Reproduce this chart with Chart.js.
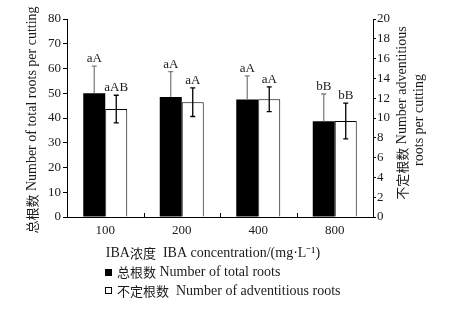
<!DOCTYPE html>
<html>
<head>
<meta charset="utf-8">
<script src="https://cdn.jsdelivr.net/npm/chart.js@4/dist/chart.umd.min.js"></script>
<style>
  html, body { margin: 0; padding: 0; background: #fff; }
  #wrap { position: relative; width: 449px; height: 309px; }
</style>
</head>
<body>
<div id="wrap"><canvas id="c" width="449" height="309"></canvas></div>
<script>
// Data
const concentrations = ["100", "200", "400", "800"];
const totalRoots = [50, 48.5, 47.5, 38.7];          // left axis
const totalRootsErr = [11, 10.2, 9.5, 11];
const totalLetters = ["aA", "aA", "aA", "bB"];
const adventRoots = [10.9, 11.6, 11.9, 9.7];         // right axis
const adventRootsErr = [1.4, 1.45, 1.25, 1.8];
const adventLetters = ["aAB", "aA", "aA", "bB"];

const serif = '"Liberation Serif", "Times New Roman", serif';
const cjk = '"Noto Sans CJK SC", sans-serif';
const textColor = "#1a1a1a";

// Draw text mixing Chinese runs (CJK font) and Latin runs (serif font).
function drawMixed(ctx, text, x, y, align) {
  const parts = text.split(/([\u3400-\u9fff]+)/).filter((p) => p.length);
  const fonts = parts.map((p) => (/[\u3400-\u9fff]/.test(p) ? "13px " + cjk : "14px " + serif));
  const widths = parts.map((p, i) => { ctx.font = fonts[i]; return ctx.measureText(p).width; });
  const total = widths.reduce((a, b) => a + b, 0);
  let cx = align === "center" ? x - total / 2 : x;
  ctx.textAlign = "left";
  ctx.textBaseline = "middle";
  parts.forEach((p, i) => {
    ctx.font = fonts[i];
    ctx.fillText(p, cx, y);
    cx += widths[i];
  });
}

// Draws error bars, significance letters, x-axis tick marks, titles and legend.
const extras = {
  id: "extras",
  afterDatasetsDraw(chart) {
    const ctx = chart.ctx;
    const sets = [
      { meta: chart.getDatasetMeta(0), scale: chart.scales.y, vals: totalRoots, err: totalRootsErr, lab: totalLetters, color: "#808080", down: false },
      { meta: chart.getDatasetMeta(1), scale: chart.scales.y1, vals: adventRoots, err: adventRootsErr, lab: adventLetters, color: "#000", down: true },
    ];
    ctx.save();
    sets.forEach((s) => {
      s.meta.data.forEach((bar, i) => {
        const x = bar.x;
        const yTop = s.scale.getPixelForValue(s.vals[i] + s.err[i]);
        const yMid = s.scale.getPixelForValue(s.vals[i]);
        const yBot = s.scale.getPixelForValue(s.vals[i] - s.err[i]);
        ctx.strokeStyle = s.color;
        ctx.lineWidth = 1.3;
        ctx.beginPath();
        ctx.moveTo(x, s.down ? yBot : yMid);
        ctx.lineTo(x, yTop);
        ctx.moveTo(x - 2.5, yTop);
        ctx.lineTo(x + 2.5, yTop);
        if (s.down) {
          ctx.moveTo(x - 2.5, yBot);
          ctx.lineTo(x + 2.5, yBot);
        }
        ctx.stroke();
        ctx.fillStyle = textColor;
        ctx.font = "13px " + serif;
        ctx.textAlign = "center";
        ctx.textBaseline = "alphabetic";
        ctx.fillText(s.lab[i], x, yTop - 4);
      });
    });
    ctx.restore();
  },
  afterDraw(chart) {
    const ctx = chart.ctx;
    const area = chart.chartArea;
    const xs = chart.scales.x;
    ctx.save();
    // small inward tick marks between categories
    ctx.strokeStyle = "#000";
    ctx.lineWidth = 1;
    for (let i = 1; i < concentrations.length; i++) {
      const px = Math.round((xs.getPixelForValue(i - 1) + xs.getPixelForValue(i)) / 2) + 0.5;
      ctx.beginPath();
      ctx.moveTo(px, area.bottom);
      ctx.lineTo(px, area.bottom - 4);
      ctx.stroke();
    }
    ctx.fillStyle = textColor;
    // x title
    drawMixed(ctx, "IBA浓度  IBA concentration/(mg·L⁻¹)", 213, 253, "center");
    // left y title
    ctx.save();
    ctx.translate(32, 120);
    ctx.rotate(-Math.PI / 2);
    drawMixed(ctx, "总根数 Number of total roots per cutting", 0, 0, "center");
    ctx.restore();
    // right y title, two lines
    ctx.save();
    ctx.translate(402, 113);
    ctx.rotate(-Math.PI / 2);
    drawMixed(ctx, "不定根数 Number adventitious", 0, 0, "center");
    ctx.restore();
    ctx.save();
    ctx.translate(419, 120);
    ctx.rotate(-Math.PI / 2);
    drawMixed(ctx, "roots per cutting", 0, 0, "center");
    ctx.restore();
    // legend
    ctx.fillStyle = "#000";
    ctx.fillRect(105, 269, 7, 7);
    ctx.strokeStyle = "#000";
    ctx.strokeRect(105.5, 287.5, 6, 6);
    ctx.fillStyle = textColor;
    drawMixed(ctx, "总根数 Number of total roots", 117, 272, "left");
    drawMixed(ctx, "不定根数  Number of adventitious roots", 117, 291, "left");
    ctx.restore();
  },
};

new Chart(document.getElementById("c"), {
  type: "bar",
  data: {
    labels: concentrations,
    datasets: [
      {
        label: "总根数 Number of total roots",
        data: totalRoots,
        yAxisID: "y",
        backgroundColor: "#000",
        borderWidth: 0,
      },
      {
        label: "不定根数 Number of adventitious roots",
        data: adventRoots,
        yAxisID: "y1",
        backgroundColor: "#fff",
        borderColor: "#000",
        borderWidth: 1,
      },
    ],
  },
  options: {
    responsive: false,
    animation: false,
    layout: { padding: { top: 19, left: 0, right: 0, bottom: 0 } },
    datasets: { bar: { categoryPercentage: 0.575, barPercentage: 1.0 } },
    scales: {
      x: {
        grid: { display: false },
        border: { color: "#000", width: 1 },
        ticks: { color: textColor, font: { family: serif, size: 13 }, padding: -2 },
        afterFit: (s) => { s.height = 92; },
      },
      y: {
        position: "left",
        min: 0,
        max: 80,
        ticks: { stepSize: 10, color: textColor, font: { family: serif, size: 13 }, padding: 2 },
        grid: { drawOnChartArea: false, tickLength: 4, color: "#000" },
        border: { color: "#000", width: 1 },
        afterFit: (s) => { s.width = 67; },
      },
      y1: {
        position: "right",
        min: 0,
        max: 20,
        ticks: { stepSize: 2, color: textColor, font: { family: serif, size: 13 }, padding: 1 },
        grid: { drawOnChartArea: false, tickLength: 3, color: "#000" },
        border: { color: "#000", width: 1 },
        afterFit: (s) => { s.width = 76; },
      },
    },
    plugins: {
      legend: { display: false },
      tooltip: { enabled: false },
    },
  },
  plugins: [extras],
});
</script>
</body>
</html>
